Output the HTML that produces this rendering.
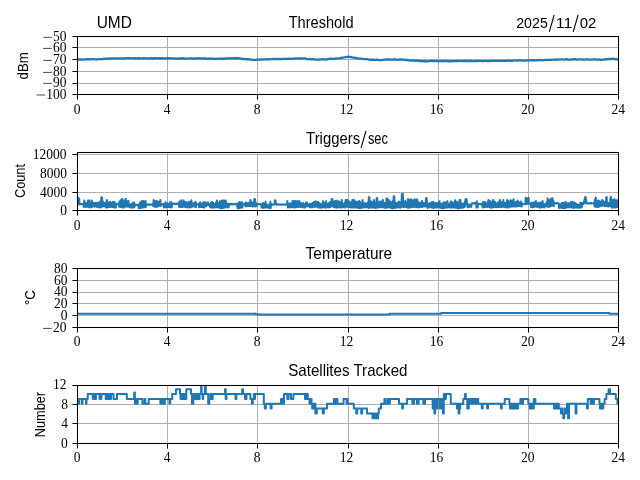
<!DOCTYPE html>
<html><head><meta charset="utf-8"><title>UMD</title>
<style>html,body{margin:0;padding:0;background:#fff;}svg{display:block;will-change:transform;}text{font-family:"Liberation Serif",serif;font-size:15.2px;fill:#000;}.s{font-family:"Liberation Sans",sans-serif;}</style></head><body>
<svg width="640" height="480" viewBox="0 0 640 480">
<rect width="640" height="480" fill="#fff"/>
<clipPath id="c0"><rect x="77.5" y="36.5" width="541.0" height="58.0"/></clipPath>
<line x1="77.5" y1="36.5" x2="77.5" y2="94.5" stroke="#b0b0b0" stroke-width="1"/>
<line x1="167.5" y1="36.5" x2="167.5" y2="94.5" stroke="#b0b0b0" stroke-width="1"/>
<line x1="257.5" y1="36.5" x2="257.5" y2="94.5" stroke="#b0b0b0" stroke-width="1"/>
<line x1="348.5" y1="36.5" x2="348.5" y2="94.5" stroke="#b0b0b0" stroke-width="1"/>
<line x1="438.5" y1="36.5" x2="438.5" y2="94.5" stroke="#b0b0b0" stroke-width="1"/>
<line x1="528.5" y1="36.5" x2="528.5" y2="94.5" stroke="#b0b0b0" stroke-width="1"/>
<line x1="618.5" y1="36.5" x2="618.5" y2="94.5" stroke="#b0b0b0" stroke-width="1"/>
<line x1="77.5" y1="36.5" x2="618.5" y2="36.5" stroke="#b0b0b0" stroke-width="1"/>
<line x1="77.5" y1="47.5" x2="618.5" y2="47.5" stroke="#b0b0b0" stroke-width="1"/>
<line x1="77.5" y1="59.5" x2="618.5" y2="59.5" stroke="#b0b0b0" stroke-width="1"/>
<line x1="77.5" y1="71.5" x2="618.5" y2="71.5" stroke="#b0b0b0" stroke-width="1"/>
<line x1="77.5" y1="83.5" x2="618.5" y2="83.5" stroke="#b0b0b0" stroke-width="1"/>
<line x1="77.5" y1="94.5" x2="618.5" y2="94.5" stroke="#b0b0b0" stroke-width="1"/>
<g clip-path="url(#c0)"><polyline points="77.50,59.51 79.00,59.41 80.50,59.64 82.00,59.33 83.50,59.54 85.00,59.43 86.50,59.26 88.00,59.46 89.50,59.21 91.00,59.39 92.50,59.18 94.00,59.18 95.50,59.32 97.00,59.50 98.50,59.13 100.00,59.16 101.50,59.15 103.00,59.10 104.50,58.71 106.00,58.54 107.50,58.81 109.00,58.33 110.50,58.72 112.00,58.42 113.50,58.34 115.00,58.31 116.50,58.39 118.00,58.63 119.50,58.30 121.00,58.48 122.50,58.49 124.00,58.35 125.50,58.42 127.00,58.16 128.50,58.14 130.00,58.20 131.50,58.43 133.00,58.28 134.50,58.21 136.00,58.34 137.50,58.28 139.00,58.20 140.50,58.45 142.00,58.40 143.50,58.17 145.00,58.34 146.50,58.31 148.00,58.49 149.50,58.41 151.00,58.19 152.50,58.54 154.00,58.11 155.50,58.26 157.00,58.43 158.50,58.13 160.00,58.29 161.50,58.07 163.00,58.38 164.50,58.43 166.00,58.34 167.50,58.49 169.00,58.22 170.50,58.43 172.00,58.39 173.50,58.39 175.00,58.34 176.50,58.55 178.00,58.61 179.50,58.39 181.00,58.50 182.50,58.21 184.00,58.54 185.50,58.52 187.00,58.71 188.50,58.64 190.00,58.38 191.50,58.44 193.00,58.60 194.50,58.29 196.00,58.52 197.50,58.38 199.00,58.37 200.50,58.35 202.00,58.72 203.50,58.41 205.00,58.48 206.50,58.57 208.00,58.82 209.50,58.44 211.00,58.63 212.50,58.70 214.00,58.88 215.50,58.86 217.00,58.86 218.50,58.54 220.00,58.58 221.50,58.53 223.00,58.76 224.50,58.77 226.00,58.34 227.50,58.33 229.00,58.33 230.50,58.30 232.00,58.40 233.50,58.43 235.00,58.24 236.50,58.08 238.00,58.26 239.50,58.38 241.00,58.63 242.50,58.98 244.00,59.00 245.50,59.06 247.00,59.26 248.50,59.44 250.00,59.24 251.50,59.77 253.00,59.81 254.50,59.95 256.00,59.92 257.50,59.67 259.00,59.63 260.50,59.43 262.00,59.65 263.50,59.32 265.00,59.28 266.50,59.30 268.00,59.23 269.50,59.28 271.00,59.09 272.50,59.02 274.00,59.05 275.50,58.98 277.00,59.07 278.50,58.85 280.00,59.23 281.50,59.06 283.00,58.78 284.50,58.79 286.00,58.79 287.50,58.76 289.00,58.59 290.50,58.92 292.00,58.96 293.50,58.67 295.00,58.65 296.50,58.42 298.00,58.40 299.50,58.50 301.00,58.43 302.50,58.68 304.00,58.38 305.50,58.47 307.00,59.10 308.50,59.04 310.00,59.01 311.50,59.37 313.00,59.16 314.50,59.41 316.00,59.64 317.50,59.58 319.00,59.50 320.50,59.28 322.00,59.33 323.50,59.23 325.00,59.54 326.50,59.27 328.00,59.24 329.50,58.86 331.00,58.66 332.50,58.81 334.00,58.74 335.50,58.58 337.00,58.45 338.50,58.36 340.00,58.22 341.50,57.75 343.00,57.68 344.50,57.38 346.00,57.01 347.50,56.85 349.00,56.92 350.50,56.95 352.00,57.38 353.50,57.72 355.00,57.67 356.50,58.17 358.00,58.44 359.50,58.68 361.00,58.63 362.50,58.81 364.00,59.06 365.50,59.13 367.00,59.21 368.50,59.50 370.00,59.72 371.50,59.77 373.00,59.67 374.50,59.84 376.00,59.99 377.50,59.71 379.00,60.08 380.50,60.12 382.00,59.98 383.50,59.88 385.00,59.66 386.50,59.43 388.00,59.65 389.50,59.34 391.00,59.58 392.50,59.70 394.00,59.45 395.50,59.49 397.00,59.80 398.50,59.73 400.00,59.49 401.50,59.51 403.00,59.56 404.50,59.97 406.00,59.99 407.50,59.81 409.00,60.30 410.50,60.53 412.00,60.52 413.50,60.52 415.00,60.76 416.50,60.71 418.00,60.68 419.50,61.19 421.00,61.06 422.50,61.03 424.00,61.26 425.50,61.04 427.00,61.29 428.50,61.26 430.00,60.95 431.50,60.97 433.00,60.99 434.50,60.96 436.00,61.13 437.50,60.96 439.00,61.04 440.50,60.89 442.00,61.28 443.50,61.00 445.00,61.05 446.50,61.10 448.00,61.26 449.50,61.02 451.00,61.26 452.50,61.05 454.00,61.06 455.50,61.06 457.00,60.80 458.50,61.01 460.00,60.88 461.50,60.79 463.00,61.18 464.50,60.87 466.00,61.01 467.50,61.14 469.00,61.05 470.50,60.93 472.00,61.02 473.50,61.04 475.00,61.15 476.50,60.81 478.00,61.03 479.50,60.88 481.00,60.88 482.50,61.11 484.00,60.96 485.50,60.97 487.00,61.05 488.50,61.11 490.00,60.86 491.50,60.92 493.00,60.85 494.50,60.84 496.00,60.91 497.50,60.78 499.00,60.80 500.50,60.75 502.00,60.97 503.50,60.83 505.00,60.90 506.50,60.92 508.00,60.56 509.50,60.69 511.00,60.87 512.50,60.80 514.00,60.43 515.50,60.41 517.00,60.55 518.50,60.35 520.00,60.41 521.50,60.31 523.00,60.59 524.50,60.62 526.00,60.65 527.50,60.24 529.00,60.49 530.50,60.43 532.00,60.13 533.50,60.47 535.00,60.48 536.50,60.07 538.00,60.40 539.50,60.09 541.00,60.10 542.50,60.32 544.00,60.20 545.50,59.83 547.00,59.93 548.50,59.93 550.00,59.80 551.50,59.69 553.00,59.71 554.50,59.87 556.00,59.47 557.50,59.70 559.00,59.60 560.50,59.35 562.00,59.47 563.50,59.57 565.00,59.47 566.50,59.21 568.00,59.65 569.50,59.56 571.00,59.66 572.50,59.23 574.00,59.32 575.50,59.22 577.00,59.59 578.50,59.35 580.00,59.29 581.50,59.44 583.00,59.69 584.50,59.66 586.00,59.39 587.50,59.34 589.00,59.73 590.50,59.57 592.00,59.64 593.50,59.34 595.00,59.34 596.50,59.66 598.00,59.54 599.50,59.37 601.00,59.81 602.50,59.67 604.00,59.64 605.50,59.17 607.00,59.45 608.50,58.95 610.00,59.24 611.50,58.92 613.00,58.76 614.50,58.95 616.00,59.31 617.50,59.16 618.50,59.40" fill="none" stroke="#1f77b4" stroke-width="2.30" stroke-linejoin="round" stroke-linecap="butt"/></g>
<line x1="77.5" y1="94.5" x2="77.5" y2="99.5" stroke="#000" stroke-width="1"/>
<text transform="translate(77.2,114.0) scale(0.89,1)" text-anchor="middle">0</text>
<line x1="167.5" y1="94.5" x2="167.5" y2="99.5" stroke="#000" stroke-width="1"/>
<text transform="translate(167.2,114.0) scale(0.89,1)" text-anchor="middle">4</text>
<line x1="257.5" y1="94.5" x2="257.5" y2="99.5" stroke="#000" stroke-width="1"/>
<text transform="translate(257.2,114.0) scale(0.89,1)" text-anchor="middle">8</text>
<line x1="348.5" y1="94.5" x2="348.5" y2="99.5" stroke="#000" stroke-width="1"/>
<text transform="translate(346.6,114.0) scale(0.89,1)" text-anchor="middle">12</text>
<line x1="438.5" y1="94.5" x2="438.5" y2="99.5" stroke="#000" stroke-width="1"/>
<text transform="translate(436.5,114.0) scale(0.89,1)" text-anchor="middle">16</text>
<line x1="528.5" y1="94.5" x2="528.5" y2="99.5" stroke="#000" stroke-width="1"/>
<text transform="translate(527.8,114.0) scale(0.89,1)" text-anchor="middle">20</text>
<line x1="618.5" y1="94.5" x2="618.5" y2="99.5" stroke="#000" stroke-width="1"/>
<text transform="translate(618.2,114.0) scale(0.89,1)" text-anchor="middle">24</text>
<line x1="72.4" y1="36.5" x2="77.5" y2="36.5" stroke="#000" stroke-width="1"/>
<text transform="translate(66.6,41.0) scale(0.89,1)" text-anchor="end">50</text>
<line x1="43.2" y1="37.4" x2="51.8" y2="37.4" stroke="#000" stroke-width="0.7"/>
<line x1="72.4" y1="47.5" x2="77.5" y2="47.5" stroke="#000" stroke-width="1"/>
<text transform="translate(66.6,52.0) scale(0.89,1)" text-anchor="end">60</text>
<line x1="43.2" y1="48.4" x2="51.8" y2="48.4" stroke="#000" stroke-width="0.7"/>
<line x1="72.4" y1="59.5" x2="77.5" y2="59.5" stroke="#000" stroke-width="1"/>
<text transform="translate(66.6,64.0) scale(0.89,1)" text-anchor="end">70</text>
<line x1="43.2" y1="60.4" x2="51.8" y2="60.4" stroke="#000" stroke-width="0.7"/>
<line x1="72.4" y1="71.5" x2="77.5" y2="71.5" stroke="#000" stroke-width="1"/>
<text transform="translate(66.6,76.0) scale(0.89,1)" text-anchor="end">80</text>
<line x1="43.2" y1="72.4" x2="51.8" y2="72.4" stroke="#000" stroke-width="0.7"/>
<line x1="72.4" y1="83.5" x2="77.5" y2="83.5" stroke="#000" stroke-width="1"/>
<text transform="translate(66.6,87.0) scale(0.89,1)" text-anchor="end">90</text>
<line x1="43.2" y1="83.4" x2="51.8" y2="83.4" stroke="#000" stroke-width="0.7"/>
<line x1="72.4" y1="94.5" x2="77.5" y2="94.5" stroke="#000" stroke-width="1"/>
<text transform="translate(66.6,98.6) scale(0.89,1)" text-anchor="end">100</text>
<line x1="36.5" y1="95.0" x2="45.1" y2="95.0" stroke="#000" stroke-width="0.7"/>
<rect x="77.5" y="36.5" width="541.0" height="58.0" fill="none" stroke="#000" stroke-width="1.05"/>
<clipPath id="c1"><rect x="77.5" y="152.5" width="541.0" height="58.0"/></clipPath>
<line x1="77.5" y1="152.5" x2="77.5" y2="210.5" stroke="#b0b0b0" stroke-width="1"/>
<line x1="167.5" y1="152.5" x2="167.5" y2="210.5" stroke="#b0b0b0" stroke-width="1"/>
<line x1="257.5" y1="152.5" x2="257.5" y2="210.5" stroke="#b0b0b0" stroke-width="1"/>
<line x1="348.5" y1="152.5" x2="348.5" y2="210.5" stroke="#b0b0b0" stroke-width="1"/>
<line x1="438.5" y1="152.5" x2="438.5" y2="210.5" stroke="#b0b0b0" stroke-width="1"/>
<line x1="528.5" y1="152.5" x2="528.5" y2="210.5" stroke="#b0b0b0" stroke-width="1"/>
<line x1="618.5" y1="152.5" x2="618.5" y2="210.5" stroke="#b0b0b0" stroke-width="1"/>
<line x1="77.5" y1="154.5" x2="618.5" y2="154.5" stroke="#b0b0b0" stroke-width="1"/>
<line x1="77.5" y1="173.5" x2="618.5" y2="173.5" stroke="#b0b0b0" stroke-width="1"/>
<line x1="77.5" y1="192.5" x2="618.5" y2="192.5" stroke="#b0b0b0" stroke-width="1"/>
<line x1="77.5" y1="210.5" x2="618.5" y2="210.5" stroke="#b0b0b0" stroke-width="1"/>
<g clip-path="url(#c1)"><polyline points="77.50,204.42 77.83,199.77 78.17,197.80 78.50,197.80 78.83,204.45 79.17,198.81 79.50,204.13 79.80,203.91 80.10,204.08 80.40,204.36 80.70,203.86 81.00,204.29 81.30,204.06 81.60,204.10 81.90,204.30 82.20,204.04 82.50,204.10 82.80,204.21 83.10,204.39 83.40,204.01 83.70,206.91 84.00,203.37 84.30,200.50 84.60,202.39 84.90,206.82 85.20,202.68 85.50,206.63 85.80,203.84 86.10,207.01 86.40,203.30 86.70,206.80 87.00,204.33 87.30,206.71 87.60,204.30 87.90,200.50 88.20,202.99 88.50,206.87 88.80,200.50 89.10,207.15 89.40,200.50 89.70,207.42 90.00,202.90 90.30,207.06 90.60,203.83 90.90,206.77 91.20,202.90 91.50,207.27 91.80,200.50 92.10,206.60 92.40,203.21 92.70,206.45 93.00,202.83 93.30,206.26 93.60,203.56 93.90,206.07 94.20,203.37 94.50,206.66 94.80,202.92 95.10,205.98 95.40,203.70 95.70,206.15 96.00,202.74 96.30,206.21 96.60,203.74 96.90,206.92 97.20,203.06 97.50,206.94 97.80,202.69 98.10,206.54 98.40,202.83 98.70,206.90 99.00,203.23 99.30,207.46 99.60,202.13 99.90,207.29 100.20,201.41 100.50,207.27 100.80,203.27 101.10,207.16 101.40,197.20 101.70,197.20 102.00,197.20 102.30,200.50 102.60,202.40 102.90,206.38 103.20,201.74 103.50,205.90 103.81,203.96 104.12,206.28 104.44,203.29 104.75,206.39 105.06,204.45 105.38,206.18 105.69,202.60 106.00,207.40 106.31,202.54 106.61,207.56 106.92,200.00 107.22,207.23 107.53,202.69 107.84,207.18 108.14,203.12 108.45,207.30 108.75,203.66 109.06,207.10 109.36,202.11 109.67,206.59 109.98,204.02 110.28,206.88 110.59,202.02 110.89,206.22 111.20,203.50 111.51,206.22 111.81,202.89 112.12,206.95 112.42,202.72 112.73,206.59 113.04,201.73 113.34,207.16 113.65,202.40 113.95,206.85 114.26,202.04 114.56,207.36 114.87,202.29 115.18,207.58 115.48,203.77 115.79,207.60 116.09,204.08 116.40,203.88 116.73,203.92 117.05,203.85 117.38,204.01 117.70,203.85 118.03,203.94 118.35,203.96 118.67,204.14 119.00,206.44 119.30,201.86 119.61,206.72 119.91,201.38 120.21,206.96 120.52,200.35 120.82,206.77 121.12,200.32 121.42,207.18 121.73,200.95 122.03,206.81 122.33,198.80 122.64,207.00 122.94,201.10 123.24,207.60 123.55,202.89 123.85,206.87 124.15,200.59 124.45,207.33 124.76,202.15 125.06,206.72 125.36,202.40 125.67,198.80 125.97,202.40 126.27,206.19 126.58,200.90 126.88,206.57 127.18,202.20 127.48,206.63 127.79,202.07 128.09,206.49 128.39,200.85 128.70,206.36 129.00,206.56 129.30,204.24 129.60,207.02 129.90,204.77 130.20,207.36 130.50,204.71 130.80,207.32 131.10,205.05 131.40,207.62 131.70,203.74 132.00,207.55 132.30,204.17 132.60,207.55 132.90,202.87 133.20,207.49 133.50,203.88 133.80,206.83 134.10,202.41 134.40,207.18 134.70,204.36 135.00,204.84 135.31,204.73 135.62,205.18 135.93,204.69 136.23,204.63 136.54,204.64 136.85,204.84 137.16,205.14 137.47,205.13 137.77,205.04 138.08,205.20 138.39,205.16 138.70,208.01 139.00,204.67 139.30,208.31 139.60,203.28 139.90,208.07 140.20,202.48 140.50,207.98 140.80,202.94 141.10,207.97 141.40,204.63 141.70,200.90 142.00,203.59 142.30,207.03 142.60,203.01 142.90,207.57 143.20,203.85 143.50,200.90 143.80,201.62 144.10,207.19 144.40,203.79 144.70,207.18 145.00,203.11 145.30,206.90 145.60,200.90 145.90,206.99 146.20,203.67 146.50,204.31 146.81,204.44 147.12,204.59 147.43,204.87 147.74,204.87 148.05,204.53 148.35,204.45 148.66,204.56 148.97,204.60 149.28,204.86 149.59,204.41 149.90,204.78 150.21,204.74 150.52,204.79 150.83,204.76 151.14,204.66 151.45,204.50 151.75,204.49 152.06,204.52 152.37,204.77 152.68,204.35 152.99,204.42 153.30,206.13 153.61,200.00 153.92,206.42 154.22,203.79 154.53,206.21 154.84,201.07 155.15,206.72 155.46,201.86 155.76,206.85 156.07,202.49 156.38,206.49 156.69,200.92 157.00,206.85 157.30,201.86 157.61,206.78 157.92,201.72 158.23,206.05 158.54,202.05 158.84,205.76 159.15,201.85 159.46,205.86 159.77,201.49 160.08,205.61 160.38,200.00 160.69,205.99 161.00,203.91 161.34,204.38 161.68,204.15 162.01,204.36 162.35,204.02 162.69,204.32 163.02,204.07 163.36,203.96 163.70,206.89 164.01,204.03 164.31,207.10 164.62,204.33 164.93,207.45 165.24,204.53 165.54,202.20 165.85,203.77 166.16,207.37 166.46,203.37 166.77,207.00 167.08,203.19 167.39,206.92 167.69,203.41 168.00,206.77 168.31,204.11 168.61,206.59 168.92,204.91 169.23,207.09 169.54,205.78 169.84,207.39 170.15,202.20 170.46,206.98 170.76,205.73 171.07,207.14 171.38,202.20 171.69,207.52 171.99,205.76 172.30,203.87 172.60,203.72 172.91,203.80 173.21,203.59 173.52,203.67 173.82,203.81 174.13,204.06 174.43,203.57 174.74,203.79 175.04,203.98 175.35,204.08 175.65,203.62 175.95,203.58 176.26,204.07 176.56,204.09 176.87,203.79 177.17,203.53 177.48,204.06 177.78,203.73 178.09,204.04 178.39,203.87 178.70,203.99 179.00,206.87 179.30,201.39 179.61,206.45 179.91,201.67 180.21,206.90 180.52,202.55 180.82,207.08 181.12,200.20 181.43,206.82 181.73,202.02 182.04,207.13 182.34,203.19 182.64,206.90 182.95,203.15 183.25,206.53 183.55,200.20 183.86,206.50 184.16,202.19 184.46,206.35 184.77,202.12 185.07,206.92 185.37,202.83 185.68,206.75 185.98,202.01 186.28,207.18 186.59,203.80 186.89,207.36 187.19,202.75 187.50,207.45 187.80,204.28 188.11,207.03 188.41,204.17 188.71,206.97 189.02,201.74 189.32,206.97 189.62,202.33 189.93,207.50 190.23,202.32 190.53,207.36 190.84,204.20 191.14,207.08 191.44,200.20 191.75,206.96 192.05,204.45 192.35,206.23 192.66,204.13 192.96,206.42 193.26,203.17 193.57,206.37 193.87,204.00 194.18,206.05 194.48,202.69 194.78,206.71 195.09,202.90 195.39,206.42 195.69,201.74 196.00,207.10 196.30,203.95 196.64,204.18 196.98,204.39 197.31,204.15 197.65,204.20 197.99,203.99 198.32,203.80 198.66,203.82 199.00,207.28 199.30,203.57 199.60,206.59 199.90,203.01 200.20,202.20 200.50,203.29 200.80,206.93 201.10,203.93 201.40,207.09 201.70,204.03 202.00,206.60 202.30,203.88 202.60,206.99 202.90,205.31 203.20,202.20 203.50,205.35 203.80,207.55 204.10,205.15 204.40,207.38 204.70,202.20 205.00,205.91 205.31,202.60 205.62,202.60 205.94,204.78 206.25,206.14 206.56,204.67 206.88,205.60 207.19,204.21 207.50,202.60 207.81,204.81 208.12,202.60 208.44,204.77 208.75,205.22 209.06,204.52 209.38,205.41 209.69,204.23 210.00,206.97 210.30,204.03 210.60,207.39 210.90,202.86 211.21,207.26 211.51,203.36 211.81,207.60 212.11,201.67 212.41,207.68 212.71,204.41 213.02,207.67 213.32,202.96 213.62,207.22 213.92,204.11 214.22,207.13 214.52,204.55 214.83,207.15 215.13,204.22 215.43,207.49 215.73,203.77 216.03,206.91 216.33,201.92 216.63,206.83 216.94,200.40 217.24,207.53 217.54,202.91 217.84,207.02 218.14,202.66 218.44,207.07 218.75,203.63 219.05,207.18 219.35,203.93 219.65,207.89 219.95,201.22 220.25,207.58 220.56,203.87 220.86,208.14 221.16,201.62 221.46,208.28 221.76,200.40 222.06,208.23 222.37,203.61 222.67,208.11 222.97,202.99 223.27,200.40 223.57,202.87 223.87,207.44 224.17,203.92 224.48,207.72 224.78,202.66 225.08,200.40 225.38,203.25 225.68,200.40 225.98,204.02 226.29,206.99 226.59,204.00 226.89,206.98 227.19,204.83 227.49,207.55 227.79,203.56 228.10,207.30 228.40,204.05 228.70,207.26 229.00,204.01 229.30,204.04 229.61,204.04 229.91,204.33 230.21,203.85 230.52,204.33 230.82,203.82 231.12,203.92 231.43,203.96 231.73,204.34 232.04,204.10 232.34,204.03 232.64,204.33 232.95,203.94 233.25,204.08 233.55,204.12 233.86,204.25 234.16,204.25 234.46,204.19 234.77,204.01 235.07,204.00 235.38,203.89 235.68,204.31 235.98,204.20 236.29,204.25 236.59,203.90 236.89,204.06 237.20,204.26 237.50,207.92 237.81,203.76 238.11,208.25 238.42,203.07 238.72,207.73 239.03,202.29 239.34,208.05 239.64,201.95 239.95,208.01 240.25,203.48 240.56,207.23 240.86,202.38 241.17,207.21 241.48,202.66 241.78,207.23 242.09,202.31 242.39,207.66 242.70,204.27 243.02,204.22 243.35,204.10 243.68,204.18 244.00,204.08 244.32,203.89 244.65,204.16 244.98,204.04 245.30,206.17 245.60,202.78 245.91,206.19 246.21,202.44 246.51,206.05 246.81,203.59 247.12,206.14 247.42,203.23 247.72,206.06 248.02,203.25 248.33,205.87 248.63,202.92 248.93,205.97 249.24,203.00 249.54,205.52 249.84,203.15 250.14,205.95 250.45,200.00 250.75,205.90 251.05,202.87 251.35,206.05 251.66,202.20 251.96,206.07 252.26,202.38 252.56,206.42 252.87,203.39 253.17,206.46 253.47,203.09 253.78,206.35 254.08,201.39 254.38,198.90 254.68,198.90 254.99,198.90 255.29,202.09 255.59,206.53 255.89,202.68 256.20,206.36 256.50,203.93 256.80,203.88 257.10,204.27 257.40,204.29 257.70,204.18 258.00,204.08 258.30,204.14 258.60,203.94 258.90,204.38 259.20,204.01 259.50,204.18 259.80,204.29 260.10,204.29 260.40,204.08 260.70,203.98 261.00,204.13 261.30,203.88 261.60,207.34 261.90,204.59 262.21,207.72 262.51,203.38 262.81,207.99 263.12,203.02 263.42,207.66 263.72,203.56 264.03,207.25 264.33,204.93 264.63,207.59 264.94,205.09 265.24,207.40 265.54,201.70 265.85,207.42 266.15,205.01 266.45,207.34 266.75,204.42 267.06,207.20 267.36,205.42 267.66,207.47 267.97,204.88 268.27,207.24 268.57,205.18 268.88,207.81 269.18,204.71 269.48,207.80 269.79,204.80 270.09,208.10 270.39,201.70 270.70,208.00 271.00,204.59 271.30,204.60 271.60,204.62 271.90,204.82 272.20,204.30 272.50,204.80 272.80,204.58 273.10,204.64 273.40,204.70 273.70,204.80 274.00,204.52 274.30,204.55 274.60,203.34 274.92,200.22 275.24,204.06 275.56,200.56 275.88,203.85 276.20,204.51 276.50,204.49 276.81,204.74 277.11,204.22 277.41,204.63 277.71,204.58 278.02,204.40 278.32,204.72 278.62,204.42 278.92,204.48 279.23,204.52 279.53,204.66 279.83,204.33 280.14,204.46 280.44,204.45 280.74,204.53 281.04,204.70 281.35,204.38 281.65,204.70 281.95,204.44 282.25,204.50 282.56,204.36 282.86,204.50 283.16,204.78 283.46,204.59 283.77,204.68 284.07,204.40 284.37,204.39 284.68,204.38 284.98,204.55 285.28,204.58 285.58,204.67 285.89,204.22 286.19,204.63 286.49,204.73 286.79,204.53 287.10,204.23 287.40,201.00 287.70,203.67 288.00,207.42 288.30,205.07 288.60,207.34 288.90,204.74 289.20,207.24 289.50,203.79 289.80,207.22 290.10,203.27 290.40,207.46 290.70,204.66 291.00,207.14 291.30,204.19 291.60,207.22 291.90,203.22 292.20,207.12 292.50,201.00 292.80,201.00 293.10,202.41 293.40,207.16 293.70,201.00 294.00,207.38 294.30,204.36 294.60,207.35 294.90,201.96 295.20,207.53 295.50,201.00 295.80,207.08 296.10,204.03 296.40,206.80 296.70,201.36 297.00,207.14 297.30,201.00 297.60,206.56 297.90,203.90 298.20,206.98 298.50,203.83 298.80,206.23 299.10,204.58 299.40,201.00 299.70,204.19 300.00,206.97 300.30,204.40 300.60,206.48 300.90,203.08 301.20,206.88 301.50,204.16 301.80,206.89 302.10,203.98 302.40,207.37 302.70,204.26 303.00,207.19 303.30,203.06 303.60,207.10 303.90,204.45 304.20,207.39 304.50,204.53 304.80,207.57 305.10,204.68 305.40,207.17 305.70,204.66 306.00,202.60 306.31,204.44 306.62,206.24 306.92,202.60 307.23,205.99 307.54,204.97 307.85,206.43 308.15,204.93 308.46,205.96 308.77,204.24 309.08,206.14 309.38,205.24 309.69,206.68 310.00,207.17 310.30,203.84 310.61,207.17 310.91,204.40 311.21,207.14 311.52,203.84 311.82,207.01 312.12,204.13 312.42,207.14 312.73,203.02 313.03,206.90 313.33,203.48 313.64,206.87 313.94,201.93 314.24,206.83 314.55,203.21 314.85,206.88 315.15,202.51 315.45,201.20 315.76,204.10 316.06,206.59 316.36,202.52 316.67,206.73 316.97,203.77 317.27,206.45 317.58,202.08 317.88,207.26 318.18,202.10 318.48,206.88 318.79,204.41 319.09,207.67 319.39,203.16 319.70,207.04 320.00,203.82 320.30,207.07 320.61,203.73 320.91,207.67 321.21,205.27 321.52,207.69 321.82,204.22 322.12,206.89 322.42,203.75 322.73,206.96 323.03,201.20 323.33,207.35 323.64,205.03 323.94,207.21 324.24,204.45 324.55,207.23 324.85,202.85 325.15,207.44 325.45,202.73 325.76,207.66 326.06,201.20 326.36,207.02 326.67,204.73 326.97,207.12 327.27,203.72 327.58,207.09 327.88,204.22 328.18,207.51 328.48,203.88 328.79,207.55 329.09,202.87 329.39,207.06 329.70,204.50 330.00,206.99 330.30,202.06 330.60,206.88 330.91,202.62 331.21,206.30 331.51,200.00 331.81,198.90 332.11,198.90 332.41,198.90 332.72,202.29 333.02,206.26 333.32,204.04 333.62,206.96 333.92,201.84 334.22,207.13 334.53,201.41 334.83,207.26 335.13,200.94 335.43,207.25 335.73,201.93 336.03,207.58 336.34,200.72 336.64,207.16 336.94,200.87 337.24,207.67 337.54,201.99 337.84,207.51 338.15,202.87 338.45,207.11 338.75,201.19 339.05,207.17 339.35,201.44 339.66,207.18 339.96,203.79 340.26,207.43 340.56,202.82 340.86,207.28 341.16,203.82 341.47,207.46 341.77,200.00 342.07,207.28 342.37,203.21 342.67,207.23 342.97,204.32 343.28,207.31 343.58,204.20 343.88,207.20 344.18,203.68 344.48,207.42 344.78,202.53 345.09,207.55 345.39,202.54 345.69,200.00 345.99,202.17 346.29,200.00 346.59,203.05 346.90,206.78 347.20,201.37 347.50,200.00 347.80,201.20 348.10,206.98 348.40,201.16 348.70,207.26 349.00,203.44 349.30,206.98 349.60,201.64 349.90,206.81 350.20,202.59 350.50,207.29 350.80,204.19 351.10,207.60 351.40,202.51 351.70,207.22 352.00,204.16 352.30,200.00 352.60,202.89 352.90,207.37 353.20,202.52 353.50,207.80 353.80,201.41 354.10,200.00 354.40,201.70 354.70,207.32 355.00,203.25 355.30,207.16 355.60,201.56 355.90,207.61 356.20,202.20 356.50,207.08 356.80,201.96 357.10,207.53 357.40,201.82 357.70,207.46 358.00,202.60 358.30,207.69 358.60,202.04 358.90,208.10 359.20,200.88 359.50,207.98 359.80,201.47 360.10,207.91 360.40,203.03 360.70,207.79 361.00,203.65 361.30,207.78 361.60,203.22 361.90,207.87 362.20,203.52 362.50,200.00 362.80,203.16 363.10,207.50 363.40,203.44 363.70,206.74 364.00,204.00 364.30,207.37 364.60,203.11 364.90,207.08 365.20,203.80 365.50,207.24 365.80,203.85 366.10,207.25 366.40,203.76 366.70,206.98 367.00,203.37 367.30,207.21 367.60,203.15 367.90,207.37 368.20,201.92 368.50,208.02 368.80,197.20 369.10,197.20 369.40,197.20 369.70,207.35 370.00,201.77 370.30,207.62 370.60,201.41 370.90,207.46 371.20,201.62 371.50,207.15 371.80,202.25 372.10,207.54 372.40,202.91 372.70,207.71 373.00,202.42 373.30,207.17 373.60,202.21 373.90,200.00 374.20,201.74 374.50,207.67 374.80,203.78 375.10,207.41 375.40,202.90 375.70,208.01 376.00,203.07 376.30,207.62 376.60,198.00 376.90,198.00 377.20,198.00 377.50,207.59 377.80,202.82 378.10,207.66 378.40,202.41 378.70,207.32 379.00,202.29 379.30,207.12 379.60,201.55 379.90,207.06 380.20,203.94 380.50,207.15 380.80,201.76 381.10,207.02 381.40,201.43 381.70,206.95 382.00,203.92 382.30,207.47 382.60,203.59 382.90,200.00 383.20,202.65 383.50,207.29 383.80,202.76 384.10,207.44 384.40,204.12 384.70,207.18 385.00,203.63 385.30,207.89 385.60,202.77 385.90,207.87 386.20,204.35 386.50,198.60 386.80,198.60 387.10,198.60 387.40,202.60 387.70,207.57 388.00,204.00 388.30,207.46 388.60,200.00 388.90,207.02 389.20,204.08 389.50,207.29 389.80,201.35 390.10,207.20 390.40,203.85 390.70,207.78 391.00,203.97 391.30,207.42 391.60,201.91 391.90,208.13 392.20,203.52 392.50,207.76 392.80,200.96 393.10,208.27 393.40,201.52 393.70,196.30 394.00,196.30 394.30,196.30 394.60,203.81 394.90,207.88 395.20,202.44 395.50,207.86 395.80,202.79 396.10,207.14 396.40,202.63 396.70,207.46 397.00,203.95 397.30,207.35 397.60,203.48 397.90,206.70 398.20,203.96 398.50,207.33 398.80,201.55 399.10,207.40 399.40,202.88 399.70,207.54 400.00,201.88 400.30,207.75 400.60,202.99 400.90,207.32 401.20,203.43 401.50,207.03 401.80,194.67 402.10,193.70 402.40,193.70 402.70,193.70 403.00,196.97 403.30,207.08 403.60,207.21 403.94,203.90 404.29,206.98 404.63,204.12 404.97,206.58 405.31,200.90 405.66,206.77 406.00,207.08 406.30,203.30 406.61,207.29 406.91,202.63 407.21,207.50 407.52,204.12 407.82,199.20 408.12,201.43 408.43,207.78 408.73,199.20 409.04,207.78 409.34,201.02 409.64,207.58 409.95,200.94 410.25,207.42 410.55,199.81 410.86,207.21 411.16,199.92 411.46,199.20 411.77,200.68 412.07,206.83 412.38,202.99 412.68,207.23 412.98,201.26 413.29,206.51 413.59,200.24 413.89,206.78 414.20,202.14 414.50,206.46 414.80,199.20 415.11,206.63 415.41,201.65 415.71,207.19 416.02,200.37 416.32,206.76 416.62,202.29 416.93,206.99 417.23,199.20 417.54,207.26 417.84,201.91 418.14,207.44 418.45,203.32 418.75,207.31 419.05,202.64 419.36,207.14 419.66,203.64 419.96,206.88 420.27,203.20 420.57,206.64 420.88,202.54 421.18,206.85 421.48,202.92 421.79,207.01 422.09,200.99 422.39,207.10 422.70,202.67 423.00,206.07 423.30,203.44 423.60,206.19 423.90,202.88 424.20,205.90 424.50,204.11 424.80,206.19 425.10,203.74 425.40,206.58 425.70,202.82 426.00,198.00 426.30,198.00 426.60,198.00 426.90,201.20 427.20,205.95 427.50,207.95 427.80,204.40 428.10,207.27 428.40,204.79 428.70,207.24 429.00,203.58 429.30,207.43 429.60,204.27 429.90,206.93 430.20,203.02 430.50,207.06 430.80,204.14 431.10,206.84 431.40,203.33 431.70,207.43 432.00,201.88 432.30,207.64 432.60,204.20 432.90,207.83 433.20,201.92 433.50,207.93 433.80,203.99 434.10,207.61 434.40,203.63 434.70,207.58 435.00,203.26 435.30,207.19 435.60,202.77 435.90,207.40 436.20,203.33 436.50,207.58 436.80,203.63 437.10,206.85 437.40,204.79 437.70,207.06 438.00,202.85 438.30,207.11 438.60,204.12 438.90,207.32 439.20,203.78 439.50,201.20 439.80,203.81 440.10,207.67 440.40,204.95 440.70,207.74 441.00,204.73 441.30,208.03 441.60,203.83 441.90,207.99 442.20,205.17 442.50,208.37 442.80,203.33 443.10,207.94 443.40,203.87 443.70,207.85 444.00,202.35 444.30,208.04 444.60,204.42 444.90,207.35 445.20,202.60 445.50,207.20 445.80,204.49 446.10,207.53 446.40,204.03 446.70,207.52 447.00,203.05 447.30,201.20 447.60,204.19 447.90,207.46 448.20,203.74 448.50,207.29 448.80,203.95 449.10,207.18 449.40,204.33 449.70,207.33 450.00,207.29 450.31,202.44 450.61,207.19 450.92,201.53 451.23,207.81 451.53,203.77 451.84,207.05 452.14,202.14 452.45,207.32 452.76,202.90 453.06,207.56 453.37,203.30 453.68,207.07 453.98,202.71 454.29,207.40 454.60,202.05 454.90,206.93 455.21,200.28 455.51,207.59 455.82,203.30 456.13,207.86 456.43,203.42 456.74,207.76 457.05,201.73 457.35,207.94 457.66,203.51 457.97,208.11 458.27,204.59 458.58,208.40 458.89,203.17 459.19,207.95 459.50,200.00 459.80,207.86 460.11,202.14 460.42,200.00 460.72,202.42 461.03,207.80 461.34,203.35 461.64,207.41 461.95,204.54 462.26,207.72 462.56,204.08 462.87,207.07 463.17,203.71 463.48,207.46 463.79,204.22 464.09,207.19 464.40,205.97 464.72,201.40 465.05,206.39 465.38,200.75 465.70,199.00 466.02,199.00 466.35,199.00 466.68,199.82 467.00,202.60 467.31,204.97 467.62,207.13 467.94,204.14 468.25,207.32 468.56,204.43 468.88,206.80 469.19,204.68 469.50,206.66 469.81,204.54 470.12,206.27 470.44,205.21 470.75,206.37 471.06,204.69 471.38,206.93 471.69,203.84 472.00,203.16 472.30,203.42 472.60,203.13 472.90,203.24 473.20,203.12 473.50,203.36 473.80,203.52 474.10,203.39 474.40,203.12 474.70,203.44 475.00,203.58 475.30,203.36 475.60,203.05 475.90,203.49 476.20,203.53 476.50,207.58 476.80,201.35 477.10,207.01 477.40,203.59 477.70,207.30 478.00,204.19 478.30,204.04 478.60,204.21 478.90,204.00 479.20,203.83 479.50,204.05 479.80,203.83 480.10,204.18 480.40,204.00 480.70,204.10 481.00,204.16 481.30,203.95 481.60,204.08 481.90,203.81 482.20,204.36 482.50,207.17 482.80,202.20 483.10,207.03 483.40,202.03 483.70,207.43 484.01,201.84 484.31,207.09 484.61,203.07 484.91,206.77 485.21,202.33 485.51,206.96 485.81,203.37 486.11,206.81 486.41,203.81 486.72,206.79 487.02,203.57 487.32,207.03 487.62,202.62 487.92,206.84 488.22,201.21 488.52,200.00 488.82,200.85 489.12,207.07 489.43,201.09 489.73,207.37 490.03,201.35 490.33,207.09 490.63,201.26 490.93,207.74 491.23,202.98 491.53,207.70 491.84,203.07 492.14,207.23 492.44,203.85 492.74,207.35 493.04,200.00 493.34,207.28 493.64,204.02 493.94,207.10 494.24,201.91 494.55,207.14 494.85,201.60 495.15,206.89 495.45,203.84 495.75,206.93 496.05,203.52 496.35,207.20 496.65,203.52 496.95,207.21 497.26,203.83 497.56,207.01 497.86,202.69 498.16,206.93 498.46,203.89 498.76,207.05 499.06,201.86 499.36,206.86 499.66,201.37 499.97,200.00 500.27,203.90 500.57,206.88 500.87,202.04 501.17,207.25 501.47,204.13 501.77,206.47 502.07,202.36 502.38,206.42 502.68,202.63 502.98,206.81 503.28,200.00 503.58,206.20 503.88,204.28 504.18,206.68 504.48,203.10 504.78,206.66 505.09,203.54 505.39,207.30 505.69,202.63 505.99,207.30 506.29,203.85 506.59,207.17 506.89,201.30 507.19,200.00 507.49,202.36 507.80,207.49 508.10,200.81 508.40,207.40 508.70,202.57 509.00,206.27 509.30,202.24 509.60,206.69 509.91,202.95 510.21,206.51 510.51,200.26 510.81,206.70 511.12,202.66 511.42,206.15 511.72,200.63 512.02,206.53 512.33,202.44 512.63,206.61 512.93,201.43 513.23,206.28 513.53,199.15 513.84,206.21 514.14,202.48 514.44,206.09 514.74,202.87 515.05,206.62 515.35,202.17 515.65,206.42 515.95,201.74 516.25,206.41 516.56,202.26 516.86,205.99 517.16,202.34 517.46,206.18 517.77,200.57 518.07,205.97 518.37,201.68 518.67,206.07 518.97,202.57 519.28,205.67 519.58,202.88 519.88,206.13 520.18,202.86 520.49,206.13 520.79,201.54 521.09,206.07 521.39,202.21 521.70,206.46 522.00,203.44 522.30,204.07 522.61,204.09 522.93,204.28 523.24,204.26 523.55,203.89 523.87,204.21 524.18,204.02 524.50,204.11 524.81,203.94 525.12,204.02 525.44,204.00 525.75,197.80 526.08,200.24 526.40,204.29 526.73,201.00 527.05,203.96 527.38,200.90 527.70,198.20 528.02,198.20 528.35,198.20 528.67,197.80 529.00,203.72 529.33,203.67 529.67,203.88 530.00,203.63 530.33,203.69 530.67,203.84 531.00,207.11 531.30,202.84 531.61,207.04 531.91,204.52 532.22,207.45 532.52,202.93 532.83,207.04 533.13,203.42 533.44,206.78 533.74,202.24 534.04,206.95 534.35,204.16 534.65,206.78 534.96,203.42 535.26,206.62 535.57,204.06 535.87,200.90 536.18,204.25 536.48,206.35 536.78,203.40 537.09,206.99 537.39,203.33 537.70,206.59 538.00,203.02 538.31,206.80 538.61,202.67 538.92,207.21 539.22,204.63 539.52,207.00 539.83,202.81 540.13,207.79 540.44,202.61 540.74,207.58 541.05,204.26 541.35,207.40 541.66,202.40 541.96,207.04 542.26,204.53 542.57,200.90 542.87,203.92 543.18,207.16 543.48,204.05 543.79,206.83 544.09,204.69 544.40,207.41 544.70,204.27 545.04,204.20 545.38,204.29 545.72,204.14 546.06,204.11 546.40,206.25 546.70,202.07 547.01,206.51 547.31,202.86 547.62,198.30 547.92,201.24 548.22,206.99 548.53,199.93 548.83,206.82 549.14,201.30 549.44,206.44 549.74,201.38 550.05,206.50 550.35,199.19 550.66,206.32 550.96,198.79 551.26,205.56 551.57,200.75 551.87,205.48 552.18,198.30 552.48,198.30 552.78,201.73 553.09,206.00 553.39,200.49 553.70,206.16 554.00,203.19 554.31,203.50 554.62,203.09 554.94,203.48 555.25,203.59 555.56,203.23 555.88,203.02 556.19,203.23 556.50,203.38 556.81,203.13 557.12,203.33 557.44,203.06 557.75,203.28 558.06,203.44 558.38,203.26 558.69,203.41 559.00,207.89 559.30,204.08 559.60,207.10 559.90,204.71 560.20,207.57 560.50,204.44 560.80,207.77 561.10,204.96 561.40,207.46 561.70,203.08 562.00,207.27 562.30,203.08 562.60,208.07 562.90,204.95 563.20,207.45 563.50,202.75 563.80,207.92 564.10,204.71 564.40,207.66 564.70,203.40 565.00,208.17 565.30,205.15 565.60,201.70 565.90,204.60 566.20,207.46 566.50,204.61 566.80,207.49 567.10,203.57 567.40,206.86 567.70,204.71 568.00,207.08 568.30,202.99 568.60,207.29 568.90,203.83 569.20,206.99 569.50,203.85 569.80,207.14 570.10,203.63 570.40,207.45 570.70,204.69 571.00,201.70 571.30,204.88 571.60,207.23 571.90,204.24 572.20,207.40 572.50,201.70 572.80,207.77 573.10,203.02 573.40,208.05 573.70,202.87 574.00,207.47 574.30,202.62 574.60,207.55 574.90,202.95 575.20,207.39 575.50,204.05 575.80,207.50 576.10,203.84 576.40,207.49 576.70,204.30 577.00,207.23 577.30,204.53 577.60,207.76 577.90,204.58 578.20,207.19 578.50,205.43 578.80,207.69 579.10,205.54 579.40,207.70 579.70,204.84 580.00,206.97 580.31,202.86 580.62,207.51 580.94,202.69 581.25,207.50 581.56,203.49 581.88,206.91 582.19,202.97 582.50,203.71 582.80,203.95 583.10,203.92 583.40,203.97 583.70,203.63 584.00,203.12 584.31,200.08 584.62,202.98 584.93,197.92 585.24,197.00 585.56,197.00 585.87,203.31 586.18,199.43 586.49,203.48 586.80,203.48 587.11,203.41 587.42,203.57 587.72,203.50 588.03,203.24 588.34,203.05 588.65,203.39 588.96,203.50 589.26,203.20 589.57,203.36 589.88,203.50 590.19,203.48 590.50,203.00 590.80,203.29 591.11,203.01 591.42,203.07 591.73,203.49 592.04,203.25 592.34,203.36 592.65,203.27 592.96,203.20 593.27,203.13 593.58,203.21 593.88,203.51 594.19,203.37 594.50,206.52 594.80,199.81 595.11,206.53 595.41,201.76 595.71,197.60 596.02,201.88 596.32,206.91 596.62,200.31 596.93,206.47 597.23,202.46 597.54,206.77 597.84,201.37 598.14,206.92 598.45,200.56 598.75,206.93 599.05,203.07 599.36,206.09 599.66,201.31 599.96,206.10 600.27,201.56 600.57,205.64 600.88,201.68 601.18,205.77 601.48,202.25 601.79,205.69 602.09,200.09 602.39,205.71 602.70,200.31 603.00,200.90 603.30,203.33 603.60,205.52 603.90,203.23 604.20,205.51 604.50,201.92 604.80,206.11 605.10,203.63 605.40,205.82 605.70,206.27 606.04,200.42 606.38,197.00 606.72,197.00 607.06,205.91 607.40,206.18 607.73,202.79 608.05,205.84 608.38,202.95 608.70,206.42 609.02,203.48 609.35,206.25 609.67,203.09 610.00,205.95 610.34,199.09 610.68,197.00 611.02,197.00 611.36,205.59 611.70,207.49 612.01,199.94 612.32,207.53 612.63,199.91 612.94,207.67 613.25,199.70 613.55,207.29 613.86,202.06 614.17,207.35 614.48,199.18 614.79,207.48 615.10,201.49 615.41,207.46 615.72,202.57 616.03,207.26 616.34,200.21 616.65,207.27 616.95,201.37 617.26,206.40 617.57,200.22 617.88,206.64 618.19,201.69 618.50,203.00" fill="none" stroke="#1f77b4" stroke-width="2.00" stroke-linejoin="round" stroke-linecap="butt"/></g>
<line x1="77.5" y1="210.5" x2="77.5" y2="215.5" stroke="#000" stroke-width="1"/>
<text transform="translate(77.2,230.0) scale(0.89,1)" text-anchor="middle">0</text>
<line x1="167.5" y1="210.5" x2="167.5" y2="215.5" stroke="#000" stroke-width="1"/>
<text transform="translate(167.2,230.0) scale(0.89,1)" text-anchor="middle">4</text>
<line x1="257.5" y1="210.5" x2="257.5" y2="215.5" stroke="#000" stroke-width="1"/>
<text transform="translate(257.2,230.0) scale(0.89,1)" text-anchor="middle">8</text>
<line x1="348.5" y1="210.5" x2="348.5" y2="215.5" stroke="#000" stroke-width="1"/>
<text transform="translate(346.6,230.0) scale(0.89,1)" text-anchor="middle">12</text>
<line x1="438.5" y1="210.5" x2="438.5" y2="215.5" stroke="#000" stroke-width="1"/>
<text transform="translate(436.5,230.0) scale(0.89,1)" text-anchor="middle">16</text>
<line x1="528.5" y1="210.5" x2="528.5" y2="215.5" stroke="#000" stroke-width="1"/>
<text transform="translate(527.8,230.0) scale(0.89,1)" text-anchor="middle">20</text>
<line x1="618.5" y1="210.5" x2="618.5" y2="215.5" stroke="#000" stroke-width="1"/>
<text transform="translate(618.2,230.0) scale(0.89,1)" text-anchor="middle">24</text>
<line x1="72.4" y1="154.5" x2="77.5" y2="154.5" stroke="#000" stroke-width="1"/>
<text transform="translate(66.6,159.0) scale(0.89,1)" text-anchor="end">12000</text>
<line x1="72.4" y1="173.5" x2="77.5" y2="173.5" stroke="#000" stroke-width="1"/>
<text transform="translate(67.1,178.0) scale(0.89,1)" text-anchor="end">8000</text>
<line x1="72.4" y1="192.5" x2="77.5" y2="192.5" stroke="#000" stroke-width="1"/>
<text transform="translate(67.1,197.0) scale(0.89,1)" text-anchor="end">4000</text>
<line x1="72.4" y1="210.5" x2="77.5" y2="210.5" stroke="#000" stroke-width="1"/>
<text transform="translate(67.1,215.0) scale(0.89,1)" text-anchor="end">0</text>
<rect x="77.5" y="152.5" width="541.0" height="58.0" fill="none" stroke="#000" stroke-width="1.05"/>
<clipPath id="c2"><rect x="77.5" y="268.5" width="541.0" height="59.0"/></clipPath>
<line x1="77.5" y1="268.5" x2="77.5" y2="327.5" stroke="#b0b0b0" stroke-width="1"/>
<line x1="167.5" y1="268.5" x2="167.5" y2="327.5" stroke="#b0b0b0" stroke-width="1"/>
<line x1="257.5" y1="268.5" x2="257.5" y2="327.5" stroke="#b0b0b0" stroke-width="1"/>
<line x1="348.5" y1="268.5" x2="348.5" y2="327.5" stroke="#b0b0b0" stroke-width="1"/>
<line x1="438.5" y1="268.5" x2="438.5" y2="327.5" stroke="#b0b0b0" stroke-width="1"/>
<line x1="528.5" y1="268.5" x2="528.5" y2="327.5" stroke="#b0b0b0" stroke-width="1"/>
<line x1="618.5" y1="268.5" x2="618.5" y2="327.5" stroke="#b0b0b0" stroke-width="1"/>
<line x1="77.5" y1="268.5" x2="618.5" y2="268.5" stroke="#b0b0b0" stroke-width="1"/>
<line x1="77.5" y1="280.5" x2="618.5" y2="280.5" stroke="#b0b0b0" stroke-width="1"/>
<line x1="77.5" y1="292.5" x2="618.5" y2="292.5" stroke="#b0b0b0" stroke-width="1"/>
<line x1="77.5" y1="303.5" x2="618.5" y2="303.5" stroke="#b0b0b0" stroke-width="1"/>
<line x1="77.5" y1="315.5" x2="618.5" y2="315.5" stroke="#b0b0b0" stroke-width="1"/>
<line x1="77.5" y1="327.5" x2="618.5" y2="327.5" stroke="#b0b0b0" stroke-width="1"/>
<g clip-path="url(#c2)"><polyline points="77.50,313.75 254.00,313.75 255.00,313.60 256.00,314.30 257.00,314.10 258.50,314.45 389.75,314.45 389.75,313.75 441.25,313.75 441.25,313.00 609.40,313.00 609.40,313.75 618.50,313.75" fill="none" stroke="#1f77b4" stroke-width="2.08" stroke-linejoin="round" stroke-linecap="butt"/></g>
<line x1="77.5" y1="327.5" x2="77.5" y2="332.5" stroke="#000" stroke-width="1"/>
<text transform="translate(77.2,346.0) scale(0.89,1)" text-anchor="middle">0</text>
<line x1="167.5" y1="327.5" x2="167.5" y2="332.5" stroke="#000" stroke-width="1"/>
<text transform="translate(167.2,346.0) scale(0.89,1)" text-anchor="middle">4</text>
<line x1="257.5" y1="327.5" x2="257.5" y2="332.5" stroke="#000" stroke-width="1"/>
<text transform="translate(257.2,346.0) scale(0.89,1)" text-anchor="middle">8</text>
<line x1="348.5" y1="327.5" x2="348.5" y2="332.5" stroke="#000" stroke-width="1"/>
<text transform="translate(346.6,346.0) scale(0.89,1)" text-anchor="middle">12</text>
<line x1="438.5" y1="327.5" x2="438.5" y2="332.5" stroke="#000" stroke-width="1"/>
<text transform="translate(436.5,346.0) scale(0.89,1)" text-anchor="middle">16</text>
<line x1="528.5" y1="327.5" x2="528.5" y2="332.5" stroke="#000" stroke-width="1"/>
<text transform="translate(527.8,346.0) scale(0.89,1)" text-anchor="middle">20</text>
<line x1="618.5" y1="327.5" x2="618.5" y2="332.5" stroke="#000" stroke-width="1"/>
<text transform="translate(618.2,346.0) scale(0.89,1)" text-anchor="middle">24</text>
<line x1="72.4" y1="268.5" x2="77.5" y2="268.5" stroke="#000" stroke-width="1"/>
<text transform="translate(67.6,273.0) scale(0.89,1)" text-anchor="end">80</text>
<line x1="72.4" y1="280.5" x2="77.5" y2="280.5" stroke="#000" stroke-width="1"/>
<text transform="translate(67.6,285.0) scale(0.89,1)" text-anchor="end">60</text>
<line x1="72.4" y1="292.5" x2="77.5" y2="292.5" stroke="#000" stroke-width="1"/>
<text transform="translate(67.6,296.0) scale(0.89,1)" text-anchor="end">40</text>
<line x1="72.4" y1="303.5" x2="77.5" y2="303.5" stroke="#000" stroke-width="1"/>
<text transform="translate(67.6,308.0) scale(0.89,1)" text-anchor="end">20</text>
<line x1="72.4" y1="315.5" x2="77.5" y2="315.5" stroke="#000" stroke-width="1"/>
<text transform="translate(67.6,320.0) scale(0.89,1)" text-anchor="end">0</text>
<line x1="72.4" y1="327.5" x2="77.5" y2="327.5" stroke="#000" stroke-width="1"/>
<text transform="translate(66.6,332.0) scale(0.89,1)" text-anchor="end">20</text>
<line x1="43.2" y1="328.4" x2="51.8" y2="328.4" stroke="#000" stroke-width="0.7"/>
<rect x="77.5" y="268.5" width="541.0" height="59.0" fill="none" stroke="#000" stroke-width="1.05"/>
<clipPath id="c3"><rect x="77.5" y="385.5" width="541.0" height="58.0"/></clipPath>
<line x1="77.5" y1="385.5" x2="77.5" y2="443.5" stroke="#b0b0b0" stroke-width="1"/>
<line x1="167.5" y1="385.5" x2="167.5" y2="443.5" stroke="#b0b0b0" stroke-width="1"/>
<line x1="257.5" y1="385.5" x2="257.5" y2="443.5" stroke="#b0b0b0" stroke-width="1"/>
<line x1="348.5" y1="385.5" x2="348.5" y2="443.5" stroke="#b0b0b0" stroke-width="1"/>
<line x1="438.5" y1="385.5" x2="438.5" y2="443.5" stroke="#b0b0b0" stroke-width="1"/>
<line x1="528.5" y1="385.5" x2="528.5" y2="443.5" stroke="#b0b0b0" stroke-width="1"/>
<line x1="618.5" y1="385.5" x2="618.5" y2="443.5" stroke="#b0b0b0" stroke-width="1"/>
<line x1="77.5" y1="385.5" x2="618.5" y2="385.5" stroke="#b0b0b0" stroke-width="1"/>
<line x1="77.5" y1="404.5" x2="618.5" y2="404.5" stroke="#b0b0b0" stroke-width="1"/>
<line x1="77.5" y1="423.5" x2="618.5" y2="423.5" stroke="#b0b0b0" stroke-width="1"/>
<line x1="77.5" y1="443.5" x2="618.5" y2="443.5" stroke="#b0b0b0" stroke-width="1"/>
<g clip-path="url(#c3)"><polyline points="77.50,398.90 78.70,398.90 78.70,403.73 79.20,403.73 79.20,398.90 81.90,398.90 81.90,403.73 82.40,403.73 82.40,398.90 86.00,398.90 86.00,403.73 86.50,403.73 86.50,398.90 87.70,398.90 87.70,394.07 89.30,394.07 89.30,394.07 92.80,394.07 92.80,398.90 93.50,398.90 93.50,394.07 95.20,394.07 95.20,398.90 95.90,398.90 95.90,394.07 99.50,394.07 99.50,398.90 100.20,398.90 100.20,394.07 100.80,394.07 100.80,398.90 101.40,398.90 101.40,394.07 105.70,394.07 105.70,398.90 106.30,398.90 106.30,394.07 107.20,394.07 107.20,398.90 107.80,398.90 107.80,394.07 108.60,394.07 108.60,398.90 109.20,398.90 109.20,394.07 110.40,394.07 110.40,398.90 111.00,398.90 111.00,394.07 113.50,394.07 113.50,398.90 117.00,398.90 117.00,394.07 126.80,394.07 126.80,398.90 134.20,398.90 134.20,392.62 134.90,392.62 134.90,403.73 135.60,403.73 135.60,398.90 136.30,398.90 136.30,403.73 137.70,403.73 137.70,398.90 142.40,398.90 142.40,403.73 144.60,403.73 144.60,398.90 145.30,398.90 145.30,403.73 148.70,403.73 148.70,398.90 160.40,398.90 160.40,403.73 161.20,403.73 161.20,398.90 162.20,398.90 162.20,403.73 163.00,403.73 163.00,398.90 164.00,398.90 164.00,403.73 164.80,403.73 164.80,398.90 169.40,398.90 169.40,403.73 170.20,403.73 170.20,398.90 172.30,398.90 172.30,394.07 176.00,394.07 176.00,389.23 180.00,389.23 180.00,394.07 180.60,394.07 180.60,398.90 181.50,398.90 181.50,394.07 182.40,394.07 182.40,398.90 183.30,398.90 183.30,394.07 184.20,394.07 184.20,398.90 185.10,398.90 185.10,394.07 186.00,394.07 186.00,398.90 186.30,398.90 186.30,389.23 191.00,389.23 191.00,394.07 192.00,394.07 192.00,403.73 193.30,403.73 193.30,394.07 194.00,394.07 194.00,398.90 194.90,398.90 194.90,394.07 195.80,394.07 195.80,398.90 196.70,398.90 196.70,394.07 197.60,394.07 197.60,398.90 198.50,398.90 198.50,394.07 199.40,394.07 199.40,398.90 199.60,398.90 199.60,394.07 201.10,394.07 201.10,385.37 201.70,385.37 201.70,394.07 202.60,394.07 202.60,398.90 203.20,398.90 203.20,394.07 204.90,394.07 204.90,385.37 205.80,385.37 205.80,394.07 208.20,394.07 208.20,403.73 209.20,403.73 209.20,398.90 210.40,398.90 210.40,394.07 211.00,394.07 211.00,398.90 211.50,398.90 211.50,394.07 212.20,394.07 212.20,398.90 212.70,398.90 212.70,394.07 213.40,394.07 213.40,394.07 225.00,394.07 225.00,389.23 225.70,389.23 225.70,398.90 226.40,398.90 226.40,394.07 235.50,394.07 235.50,398.90 236.40,398.90 236.40,394.07 242.20,394.07 242.20,389.23 243.00,389.23 243.00,394.07 245.00,394.07 245.00,398.90 246.50,398.90 246.50,394.07 250.40,394.07 250.40,398.90 252.00,398.90 252.00,403.73 252.80,403.73 252.80,398.90 253.80,398.90 253.80,394.07 254.40,394.07 254.40,398.90 255.00,398.90 255.00,394.07 263.80,394.07 263.80,403.73 264.80,403.73 264.80,408.57 265.80,408.57 265.80,403.73 270.60,403.73 270.60,408.57 271.60,408.57 271.60,403.73 281.00,403.73 281.00,398.90 281.80,398.90 281.80,403.73 282.60,403.73 282.60,398.90 283.40,398.90 283.40,403.73 284.00,403.73 284.00,394.07 287.30,394.07 287.30,398.90 288.60,398.90 288.60,394.07 291.00,394.07 291.00,398.90 293.40,398.90 293.40,394.07 305.00,394.07 305.00,398.90 305.80,398.90 305.80,394.07 306.60,394.07 306.60,398.90 307.20,398.90 307.20,394.07 307.80,394.07 307.80,398.90 309.50,398.90 309.50,403.73 310.30,403.73 310.30,398.90 311.50,398.90 311.50,403.73 312.20,403.73 312.20,408.57 313.00,408.57 313.00,403.73 313.80,403.73 313.80,408.57 314.60,408.57 314.60,403.73 315.40,403.73 315.40,413.40 316.80,413.40 316.80,408.57 322.80,408.57 322.80,413.40 323.80,413.40 323.80,408.57 327.00,408.57 327.00,403.73 334.00,403.73 334.00,398.90 334.80,398.90 334.80,403.73 335.50,403.73 335.50,398.90 336.30,398.90 336.30,403.73 336.90,403.73 336.90,398.90 337.40,398.90 337.40,403.73 343.50,403.73 343.50,398.90 346.60,398.90 346.60,403.73 347.00,403.73 347.00,398.90 347.60,398.90 347.60,403.73 353.80,403.73 353.80,408.57 356.20,408.57 356.20,413.40 357.20,413.40 357.20,408.57 361.20,408.57 361.20,413.40 362.20,413.40 362.20,408.57 367.00,408.57 367.00,413.40 372.50,413.40 372.50,418.23 373.30,418.23 373.30,413.40 374.10,413.40 374.10,418.23 374.90,418.23 374.90,413.40 375.70,413.40 375.70,418.23 376.50,418.23 376.50,413.40 377.30,413.40 377.30,418.23 378.10,418.23 378.10,413.40 378.80,413.40 378.80,408.57 381.00,408.57 381.00,403.73 384.40,403.73 384.40,398.90 385.20,398.90 385.20,403.73 387.40,403.73 387.40,398.90 389.00,398.90 389.00,403.73 389.80,403.73 389.80,398.90 399.00,398.90 399.00,403.73 402.20,403.73 402.20,408.57 403.00,408.57 403.00,403.73 407.00,403.73 407.00,398.90 412.40,398.90 412.40,403.73 413.00,403.73 413.00,398.90 413.50,398.90 413.50,403.73 414.20,403.73 414.20,398.90 417.00,398.90 417.00,403.73 418.60,403.73 418.60,398.90 423.30,398.90 423.30,403.73 425.00,403.73 425.00,398.90 432.70,398.90 432.70,408.57 433.40,408.57 433.40,398.90 434.10,398.90 434.10,408.57 434.40,408.57 434.40,413.40 435.10,413.40 435.10,398.90 435.60,398.90 435.60,408.57 436.30,408.57 436.30,398.90 437.00,398.90 437.00,408.57 437.40,408.57 437.40,398.90 439.75,398.90 439.75,408.57 440.45,408.57 440.45,398.90 441.15,398.90 441.15,408.57 441.85,408.57 441.85,398.90 442.55,398.90 442.55,408.57 443.00,408.57 443.00,413.40 443.80,413.40 443.80,394.07 445.20,394.07 445.20,398.90 445.90,398.90 445.90,394.07 450.80,394.07 450.80,403.73 457.00,403.73 457.00,408.57 457.80,408.57 457.80,403.73 458.60,403.73 458.60,413.40 459.40,413.40 459.40,408.57 460.20,408.57 460.20,403.73 463.30,403.73 463.30,398.90 465.00,398.90 465.00,394.07 465.80,394.07 465.80,398.90 467.25,398.90 467.25,408.57 468.80,408.57 468.80,398.90 470.80,398.90 470.80,403.73 471.50,403.73 471.50,398.90 473.20,398.90 473.20,403.73 473.90,403.73 473.90,398.90 475.50,398.90 475.50,403.73 476.20,403.73 476.20,398.90 478.20,398.90 478.20,403.73 481.80,403.73 481.80,408.57 482.60,408.57 482.60,403.73 487.20,403.73 487.20,408.57 488.00,408.57 488.00,403.73 501.00,403.73 501.00,408.57 501.80,408.57 501.80,403.73 504.75,403.73 504.75,398.90 509.40,398.90 509.40,403.73 510.00,403.73 510.00,408.57 510.90,408.57 510.90,403.73 511.80,403.73 511.80,408.57 512.70,408.57 512.70,403.73 513.60,403.73 513.60,408.57 514.50,408.57 514.50,403.73 515.40,403.73 515.40,408.57 516.30,408.57 516.30,403.73 517.20,403.73 517.20,408.57 518.10,408.57 518.10,403.73 518.80,403.73 518.80,403.73 520.40,403.73 520.40,398.90 522.40,398.90 522.40,403.73 523.10,403.73 523.10,398.90 528.30,398.90 528.30,403.73 529.75,403.73 529.75,408.57 530.55,408.57 530.55,403.73 531.35,403.73 531.35,408.57 532.15,408.57 532.15,403.73 532.95,403.73 532.95,408.57 533.75,408.57 533.75,403.73 533.80,403.73 533.80,398.90 535.40,398.90 535.40,403.73 554.00,403.73 554.00,408.57 554.80,408.57 554.80,403.73 555.60,403.73 555.60,408.57 556.40,408.57 556.40,403.73 557.20,403.73 557.20,408.57 558.00,408.57 558.00,403.73 558.80,403.73 558.80,408.57 558.80,408.57 558.80,408.57 561.00,408.57 561.00,413.40 561.80,413.40 561.80,408.57 562.60,408.57 562.60,413.40 563.30,413.40 563.30,418.23 564.20,418.23 564.20,413.40 564.90,413.40 564.90,408.57 565.60,408.57 565.60,413.40 566.30,413.40 566.30,408.57 567.00,408.57 567.00,403.73 568.10,403.73 568.10,418.23 569.00,418.23 569.00,403.73 575.60,403.73 575.60,413.40 576.40,413.40 576.40,403.73 587.00,403.73 587.00,408.57 587.80,408.57 587.80,398.90 590.60,398.90 590.60,403.73 591.30,403.73 591.30,398.90 592.00,398.90 592.00,403.73 592.70,403.73 592.70,398.90 593.40,398.90 593.40,403.73 594.10,403.73 594.10,398.90 599.40,398.90 599.40,403.73 600.00,403.73 600.00,408.57 600.80,408.57 600.80,403.73 601.60,403.73 601.60,408.57 602.40,408.57 602.40,403.73 603.20,403.73 603.20,408.57 603.30,408.57 603.30,403.73 604.60,403.73 604.60,398.90 606.40,398.90 606.40,394.07 608.60,394.07 608.60,389.23 610.00,389.23 610.00,394.07 615.80,394.07 615.80,398.90 617.40,398.90 617.40,403.73 618.50,403.73 618.50,403.73" fill="none" stroke="#1f77b4" stroke-width="2.00" stroke-linejoin="round" stroke-linecap="butt"/></g>
<line x1="77.5" y1="443.5" x2="77.5" y2="448.5" stroke="#000" stroke-width="1"/>
<text transform="translate(77.2,462.0) scale(0.89,1)" text-anchor="middle">0</text>
<line x1="167.5" y1="443.5" x2="167.5" y2="448.5" stroke="#000" stroke-width="1"/>
<text transform="translate(167.2,462.0) scale(0.89,1)" text-anchor="middle">4</text>
<line x1="257.5" y1="443.5" x2="257.5" y2="448.5" stroke="#000" stroke-width="1"/>
<text transform="translate(257.2,462.0) scale(0.89,1)" text-anchor="middle">8</text>
<line x1="348.5" y1="443.5" x2="348.5" y2="448.5" stroke="#000" stroke-width="1"/>
<text transform="translate(346.6,462.0) scale(0.89,1)" text-anchor="middle">12</text>
<line x1="438.5" y1="443.5" x2="438.5" y2="448.5" stroke="#000" stroke-width="1"/>
<text transform="translate(436.5,462.0) scale(0.89,1)" text-anchor="middle">16</text>
<line x1="528.5" y1="443.5" x2="528.5" y2="448.5" stroke="#000" stroke-width="1"/>
<text transform="translate(527.8,462.0) scale(0.89,1)" text-anchor="middle">20</text>
<line x1="618.5" y1="443.5" x2="618.5" y2="448.5" stroke="#000" stroke-width="1"/>
<text transform="translate(618.2,462.0) scale(0.89,1)" text-anchor="middle">24</text>
<line x1="72.4" y1="385.5" x2="77.5" y2="385.5" stroke="#000" stroke-width="1"/>
<text transform="translate(66.6,389.0) scale(0.89,1)" text-anchor="end">12</text>
<line x1="72.4" y1="404.5" x2="77.5" y2="404.5" stroke="#000" stroke-width="1"/>
<text transform="translate(68.1,409.0) scale(0.89,1)" text-anchor="end">8</text>
<line x1="72.4" y1="423.5" x2="77.5" y2="423.5" stroke="#000" stroke-width="1"/>
<text transform="translate(68.1,428.0) scale(0.89,1)" text-anchor="end">4</text>
<line x1="72.4" y1="443.5" x2="77.5" y2="443.5" stroke="#000" stroke-width="1"/>
<text transform="translate(67.7,447.7) scale(0.89,1)" text-anchor="end">0</text>
<rect x="77.5" y="385.5" width="541.0" height="58.0" fill="none" stroke="#000" stroke-width="1.05"/>
<text class="s" x="96.7" y="28.0" style="font-size:16.2px" text-anchor="start" textLength="35.2" lengthAdjust="spacingAndGlyphs">UMD</text>
<text class="s" x="288.7" y="28.0" style="font-size:16.2px" text-anchor="start" textLength="64.9" lengthAdjust="spacingAndGlyphs">Threshold</text>
<text class="s" x="516.2" y="28.0" style="font-size:15.2px" text-anchor="start" textLength="31.6" lengthAdjust="spacingAndGlyphs">2025</text>
<text class="s" x="555.7" y="28.0" style="font-size:15.2px" text-anchor="start" textLength="16.6" lengthAdjust="spacingAndGlyphs">11</text>
<text class="s" x="579.7" y="28.0" style="font-size:15.2px" text-anchor="start" textLength="16.6" lengthAdjust="spacingAndGlyphs">02</text>
<line x1="554.2" y1="14.9" x2="549.3" y2="31.8" stroke="#000" stroke-width="1.1"/>
<line x1="578.1" y1="14.9" x2="573.2" y2="31.8" stroke="#000" stroke-width="1.1"/>
<text class="s" x="306.1" y="143.9" style="font-size:16.2px" text-anchor="start" textLength="54.0" lengthAdjust="spacingAndGlyphs">Triggers</text>
<text class="s" x="367.9" y="143.9" style="font-size:16.2px" text-anchor="start" textLength="20.0" lengthAdjust="spacingAndGlyphs">sec</text>
<line x1="366.0" y1="130.9" x2="361.1" y2="147.8" stroke="#000" stroke-width="1.1"/>
<text class="s" x="305.6" y="259.1" style="font-size:16.2px" text-anchor="start" textLength="86.6" lengthAdjust="spacingAndGlyphs">Temperature</text>
<text class="s" x="288.2" y="375.8" style="font-size:16.2px" text-anchor="start" textLength="119.3" lengthAdjust="spacingAndGlyphs">Satellites Tracked</text>
<text class="s" transform="translate(27.6,65.8) rotate(-90)" style="font-size:14.6px" text-anchor="middle" textLength="27.2" lengthAdjust="spacingAndGlyphs">dBm</text>
<text class="s" transform="translate(24.6,181.0) rotate(-90)" style="font-size:14.6px" text-anchor="middle" textLength="34.0" lengthAdjust="spacingAndGlyphs">Count</text>
<text class="s" transform="translate(35.0,297.6) rotate(-90)" style="font-size:14.6px" text-anchor="middle" textLength="15.0" lengthAdjust="spacingAndGlyphs">°C</text>
<text class="s" transform="translate(44.9,414.6) rotate(-90)" style="font-size:14.6px" text-anchor="middle" textLength="45.4" lengthAdjust="spacingAndGlyphs">Number</text>
</svg></body></html>
